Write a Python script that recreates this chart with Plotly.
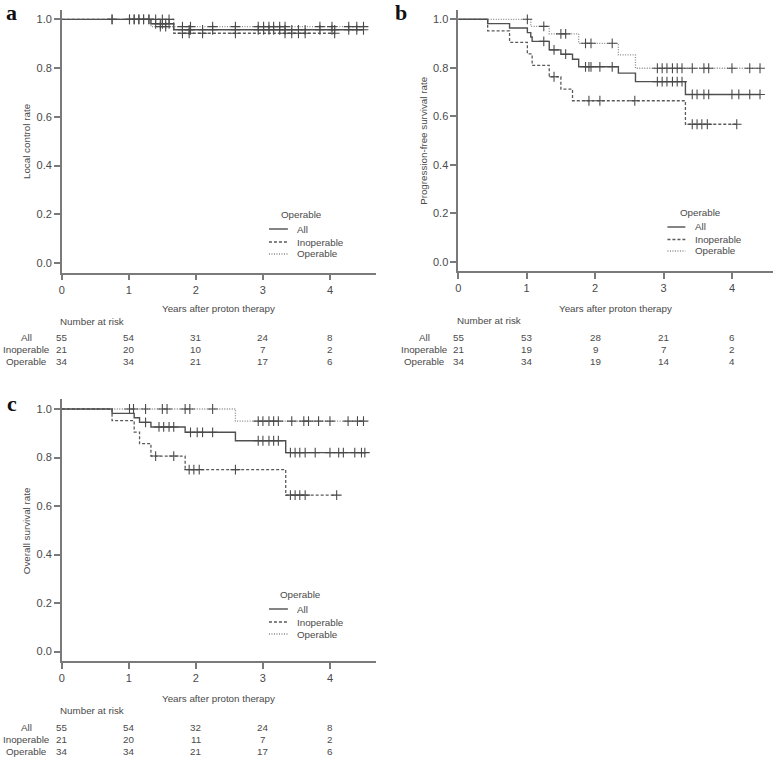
import plotly.graph_objects as go

W, H = 778, 757

# ---------------- DATA ----------------
risk_times = [0, 1, 2, 3, 4]
groups = ["All", "Inoperable", "Operable"]

# Panel a: local control
a_all_t = [1.33, 1.67]
a_all_s = [0.982, 0.957]
a_all_c = [0.75, 1.01, 1.08, 1.15, 1.22, 1.30, 1.40, 1.47, 1.50, 1.55, 1.60, 1.80, 1.90, 1.92, 2.10,
           2.25, 2.59, 2.93, 3.01, 3.09, 3.16, 3.25, 3.33, 3.43, 3.53, 3.63, 3.85, 4.03, 4.07, 4.28, 4.40, 4.50]
a_inop_t = [1.67]
a_inop_s = [0.943]
a_inop_c = [0.75, 1.08, 1.22, 1.40, 1.50, 1.60, 1.80, 1.90, 2.10, 2.59, 3.33, 3.43, 3.53, 3.63, 4.07]
a_oper_t = [1.33]
a_oper_s = [0.970]
a_oper_c = [1.01, 1.15, 1.30, 1.47, 1.55, 1.80, 1.92, 2.25, 2.59, 2.93, 3.01, 3.09, 3.16, 3.25, 3.33,
            3.85, 4.03, 4.28, 4.40, 4.50]
a_risk_all = [55, 54, 31, 24, 8]
a_risk_inop = [21, 20, 10, 7, 2]
a_risk_oper = [34, 34, 21, 17, 6]

# Panel b: progression-free survival
b_all_t = [0.43, 0.75, 1.01, 1.06, 1.08, 1.33, 1.50, 1.67, 1.76, 2.34, 2.59, 3.32]
b_all_s = [0.982, 0.964, 0.945, 0.927, 0.909, 0.874, 0.856, 0.835, 0.804, 0.778, 0.743, 0.690]
b_all_c = [1.25, 1.40, 1.57, 1.86, 1.91, 1.94, 2.07, 2.25, 2.91, 2.98, 3.05, 3.13, 3.20, 3.27,
           3.42, 3.49, 3.59, 3.66, 4.00, 4.10, 4.26, 4.41]
b_inop_t = [0.43, 0.75, 1.01, 1.08, 1.33, 1.50, 1.67, 3.32]
b_inop_s = [0.952, 0.905, 0.857, 0.810, 0.763, 0.712, 0.664, 0.567]
b_inop_c = [1.40, 1.91, 2.07, 2.58, 3.42, 3.49, 3.56, 3.64, 4.07]
b_oper_t = [1.06, 1.33, 1.76, 2.34, 2.59]
b_oper_s = [0.971, 0.940, 0.901, 0.853, 0.798]
b_oper_c = [1.01, 1.25, 1.50, 1.57, 1.86, 1.94, 2.25, 2.91, 2.98, 3.05, 3.13, 3.20, 3.27, 3.42,
            3.59, 3.66, 4.00, 4.26, 4.41]
b_risk_all = [55, 53, 28, 21, 6]
b_risk_inop = [21, 19, 9, 7, 2]
b_risk_oper = [34, 34, 19, 14, 4]

# Panel c: overall survival
c_all_t = [0.75, 1.08, 1.16, 1.33, 1.84, 2.59, 3.34]
c_all_s = [0.982, 0.964, 0.945, 0.926, 0.904, 0.869, 0.820]
c_all_c = [1.25, 1.45, 1.52, 1.60, 1.67, 1.92, 2.02, 2.10, 2.25, 2.93, 3.00, 3.09, 3.16, 3.23,
           3.41, 3.48, 3.55, 3.63, 3.78, 4.00, 4.13, 4.20, 4.37, 4.47, 4.52]
c_inop_t = [0.75, 1.08, 1.16, 1.33, 1.84, 3.34]
c_inop_s = [0.952, 0.905, 0.857, 0.806, 0.750, 0.645]
c_inop_c = [1.40, 1.67, 1.90, 1.97, 2.05, 2.59, 3.41, 3.48, 3.55, 3.63, 4.10]
c_oper_t = [2.59]
c_oper_s = [0.950]
c_oper_c = [1.01, 1.07, 1.25, 1.50, 1.57, 1.84, 1.91, 2.25, 2.93, 3.00, 3.09, 3.16, 3.23, 3.43,
            3.61, 3.68, 3.83, 4.00, 4.27, 4.41, 4.50]
c_risk_all = [55, 54, 32, 24, 8]
c_risk_inop = [21, 20, 11, 7, 2]
c_risk_oper = [34, 34, 21, 17, 6]

y_titles = ["Local control rate", "Progression-free survival rate", "Overall survival rate"]
x_title = "Years after proton therapy"
legend_title = "Operable"
panel_letters = ["a", "b", "c"]

# ---------------- STYLE ----------------
TXT = "#4a4a4a"
AX = "#7a7a7a"
MK = "#4a4a4a"
FONT = "Liberation Sans, Arial, sans-serif"
styles = {
    "All": dict(color="#505050", dash="solid", width=1.4),
    "Inoperable": dict(color="#5a5a5a", dash="3px,2px", width=1.3),
    "Operable": dict(color="#8a8a8a", dash="1px,1.5px", width=1.3),
}


def px(x):
    return x / W


def py(y):
    return 1 - y / H


def step_at(t, ev_t, ev_s):
    s = 1.0
    for tt, ss in zip(ev_t, ev_s):
        if tt <= t:
            s = ss
    return s


panels = [
    dict(xd=[59, 374], yd=[9.6, 272.7], xr=[0, 4.68],
         data={"All": (a_all_t, a_all_s, a_all_c), "Inoperable": (a_inop_t, a_inop_s, a_inop_c),
               "Operable": (a_oper_t, a_oper_s, a_oper_c)},
         risk={"All": a_risk_all, "Inoperable": a_risk_inop, "Operable": a_risk_oper},
         letter=(9, 12), ytitle_x=23, xtitle_y=308, nar=(89, 321), rows=[337, 349, 361], rowlab_x=24,
         leg=dict(title=(300, 214), lx=(267, 286), tx=293, ys=[229, 242, 254])),
    dict(xd=[457, 773], yd=[9.6, 271.4], xr=[0, 4.6],
         data={"All": (b_all_t, b_all_s, b_all_c), "Inoperable": (b_inop_t, b_inop_s, b_inop_c),
               "Operable": (b_oper_t, b_oper_s, b_oper_c)},
         risk={"All": b_risk_all, "Inoperable": b_risk_inop, "Operable": b_risk_oper},
         letter=(400, 12), ytitle_x=422, xtitle_y=308, nar=(488, 320), rows=[337, 349, 361], rowlab_x=423,
         leg=dict(title=(700, 212), lx=(667, 685), tx=693, ys=[227, 239.5, 251])),
    dict(xd=[59, 374], yd=[399.3, 661.2], xr=[0, 4.68],
         data={"All": (c_all_t, c_all_s, c_all_c), "Inoperable": (c_inop_t, c_inop_s, c_inop_c),
               "Operable": (c_oper_t, c_oper_s, c_oper_c)},
         risk={"All": c_risk_all, "Inoperable": c_risk_inop, "Operable": c_risk_oper},
         letter=(9, 403), ytitle_x=23, xtitle_y=698, nar=(89, 710), rows=[727, 739, 751], rowlab_x=24,
         leg=dict(title=(299, 594), lx=(267, 286), tx=293, ys=[609, 622, 634])),
]

fig = go.Figure()
annotations = []
shapes = []
layout = {}

for i, p in enumerate(panels):
    n = "" if i == 0 else str(i + 1)
    xa, ya = "x" + n, "y" + n
    for g in ["Operable", "Inoperable", "All"]:
        ev_t, ev_s, cens = p["data"][g]
        st = styles[g]
        last = max([max(cens) if cens else 0] + ev_t)
        xs = [0] + ev_t + [last]
        ys = [1.0] + ev_s + [ev_s[-1]]
        fig.add_trace(go.Scatter(x=xs, y=ys, mode="lines", line_shape="hv",
                                 line=dict(color=st["color"], dash=st["dash"], width=st["width"]),
                                 xaxis=xa, yaxis=ya, showlegend=False, hoverinfo="skip"))
        fig.add_trace(go.Scatter(x=cens, y=[step_at(t, ev_t, ev_s) for t in cens], mode="markers",
                                 marker=dict(symbol="cross-thin-open", size=7, color=MK,
                                             line=dict(color=MK, width=1.1)),
                                 xaxis=xa, yaxis=ya, showlegend=False, hoverinfo="skip"))
    axcommon = dict(showline=True, linecolor=AX, linewidth=1.5, ticks="outside", ticklen=6,
                    tickcolor=AX, tickwidth=1.5, showgrid=False, zeroline=False,
                    tickfont=dict(family=FONT, size=11, color=TXT), fixedrange=True)
    layout["xaxis" + n] = dict(domain=[px(p["xd"][0]), px(p["xd"][1])], range=p["xr"],
                               tickvals=risk_times, anchor=ya, **axcommon)
    layout["yaxis" + n] = dict(domain=[py(p["yd"][1]), py(p["yd"][0])], range=[-0.04, 1.04],
                               tickvals=[0, 0.2, 0.4, 0.6, 0.8, 1.0], tickformat=".1f", anchor=xa,
                               **axcommon)
    # panel letter
    annotations.append(dict(text="<b>%s</b>" % panel_letters[i], x=px(p["letter"][0]), y=py(p["letter"][1]),
                            xref="paper", yref="paper", showarrow=False, xanchor="center", yanchor="middle",
                            font=dict(family="Liberation Serif, Times New Roman, serif", size=22, color="#111")))
    # y title
    ymid = (p["yd"][0] + p["yd"][1]) / 2
    annotations.append(dict(text=y_titles[i], x=px(p["ytitle_x"]), y=py(ymid), xref="paper", yref="paper",
                            textangle=-90, showarrow=False, xanchor="center", yanchor="middle",
                            font=dict(family=FONT, size=9.8, color=TXT)))
    # x title
    xmid = (p["xd"][0] + p["xd"][1]) / 2
    annotations.append(dict(text=x_title, x=px(xmid), y=py(p["xtitle_y"]), xref="paper", yref="paper",
                            showarrow=False, xanchor="center", yanchor="middle",
                            font=dict(family=FONT, size=9.8, color=TXT)))
    # number at risk
    annotations.append(dict(text="Number at risk", x=px(p["nar"][0]), y=py(p["nar"][1]), xref="paper",
                            yref="paper", showarrow=False, xanchor="center", yanchor="middle",
                            font=dict(family=FONT, size=9.8, color=TXT)))
    for g, ry in zip(groups, p["rows"]):
        annotations.append(dict(text=g, x=px(p["rowlab_x"]), y=py(ry), xref="paper", yref="paper",
                                showarrow=False, xanchor="center", yanchor="middle",
                                font=dict(family=FONT, size=9.8, color=TXT)))
        for t, v in zip(risk_times, p["risk"][g]):
            annotations.append(dict(text=str(v), x=t, y=py(ry), xref=xa, yref="paper",
                                    showarrow=False, xanchor="center", yanchor="middle",
                                    font=dict(family=FONT, size=9.8, color=TXT)))
    # legend (manual)
    L = p["leg"]
    annotations.append(dict(text=legend_title, x=px(L["title"][0]), y=py(L["title"][1]), xref="paper",
                            yref="paper", showarrow=False, xanchor="center", yanchor="middle",
                            font=dict(family=FONT, size=9.8, color=TXT)))
    for g, ly in zip(groups, L["ys"]):
        st = styles[g]
        shapes.append(dict(type="line", xref="paper", yref="paper", x0=px(L["lx"][0]), x1=px(L["lx"][1]),
                           y0=py(ly), y1=py(ly), line=dict(color=st["color"], dash=st["dash"], width=st["width"])))
        annotations.append(dict(text=g, x=px(L["tx"]), y=py(ly), xref="paper", yref="paper",
                                showarrow=False, xanchor="left", yanchor="middle",
                                font=dict(family=FONT, size=9.8, color=TXT)))

fig.update_layout(width=W, height=H, margin=dict(l=0, r=0, t=0, b=0), paper_bgcolor="white",
                  plot_bgcolor="white", showlegend=False, annotations=annotations, shapes=shapes, **layout)
fig.write_html("out.html", config={"displayModeBar": False},
               post_script="document.body.style.margin='0';document.body.style.overflow='hidden';")
